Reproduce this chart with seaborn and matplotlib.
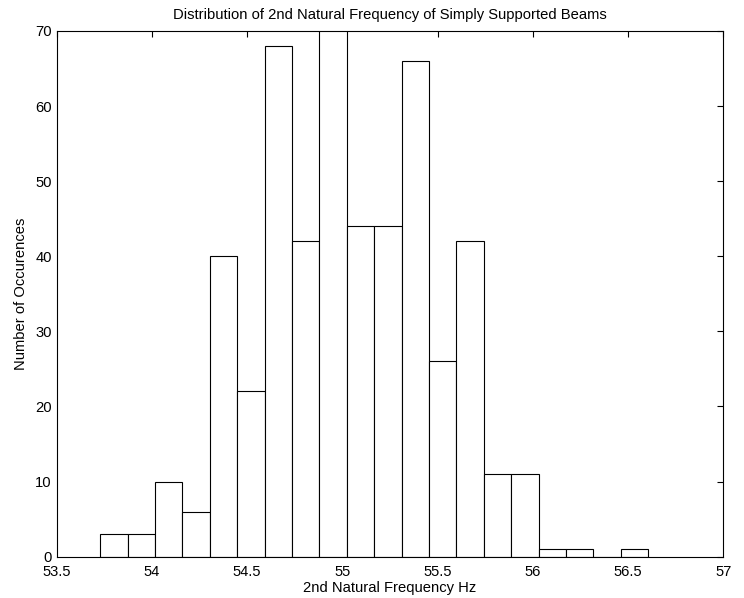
import matplotlib
matplotlib.use("Agg")
import matplotlib.pyplot as plt
import seaborn as sns
import numpy as np
import pandas as pd

# Histogram of the 2nd natural frequency (Hz): 20 equal bins between the
# smallest and largest sample, with the count in each bin.
freq_min = 53.729
freq_max = 56.605
n_bins = 20
counts = [3, 3, 10, 6, 40, 22, 68, 42, 84, 44,
          44, 66, 26, 42, 11, 11, 1, 1, 0, 1]

x_ticks = [53.5, 54, 54.5, 55, 55.5, 56, 56.5, 57]
x_tick_labels = ["53.5", "54", "54.5", "55", "55.5", "56", "56.5", "57"]
y_ticks = [0, 10, 20, 30, 40, 50, 60, 70]

sns.set_theme(style="white")
plt.rcParams["font.family"] = ["Liberation Sans", "DejaVu Sans"]
plt.rcParams["axes.linewidth"] = 0.8

FS = 10.6

width = (freq_max - freq_min) / n_bins
centers = freq_min + width * (np.arange(n_bins) + 0.5)
df = pd.DataFrame({"freq": centers, "count": counts})

fig = plt.figure(figsize=(7.44, 5.98), dpi=100)
ax = fig.add_axes([0.0762, 0.0691, 0.8960, 0.8791])

sns.histplot(data=df, x="freq", weights="count", bins=n_bins,
             binrange=(freq_min, freq_max), ax=ax,
             color="white", edgecolor="black", linewidth=0.8,
             alpha=1.0, zorder=2)

ax.set_xlim(53.5, 57)
ax.set_ylim(0, 70)
ax.set_xticks(x_ticks)
ax.set_xticklabels(x_tick_labels)
ax.set_yticks(y_ticks)
ax.tick_params(axis="both", direction="in", length=4.5, width=0.8,
               top=True, right=True, labelsize=FS, colors="black")
ax.tick_params(axis="x", pad=6)
ax.tick_params(axis="y", pad=3.5)
for s in ax.spines.values():
    s.set_color("black")
    s.set_zorder(5)

ax.set_title("Distribution of 2nd Natural Frequency of Simply Supported Beams",
             fontsize=FS, pad=8.5, color="black")
ax.set_xlabel("2nd Natural Frequency Hz", fontsize=FS, labelpad=1.5, color="black")
ax.set_ylabel("Number of Occurences", fontsize=FS, labelpad=5, color="black")

fig.savefig("out.png", dpi=100, facecolor="white")
